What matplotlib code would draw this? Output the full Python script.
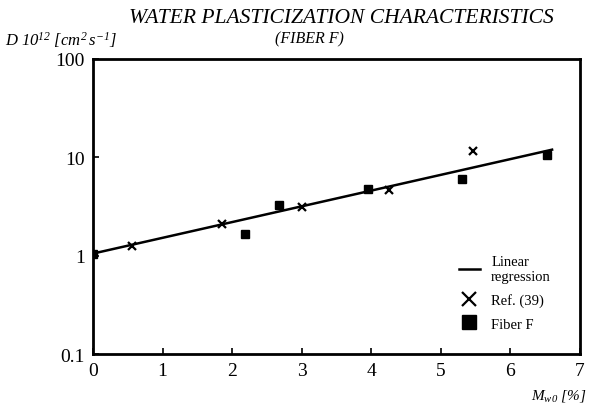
import numpy as np
import matplotlib
matplotlib.use("Agg")
import matplotlib.pyplot as plt

plt.rcParams['font.family'] = ['Liberation Serif', 'DejaVu Serif']
plt.rcParams['mathtext.fontset'] = 'custom'
plt.rcParams['mathtext.rm'] = 'Liberation Serif:italic'
plt.rcParams['mathtext.it'] = 'Liberation Serif:italic'
plt.rcParams['mathtext.bf'] = 'Liberation Serif:bold'

# Data
ref_x = [0.56, 1.86, 3.0, 4.25, 5.46]
ref_y = [1.26, 2.12, 3.15, 4.6, 11.6]
fib_x = [0.0, 2.18, 2.68, 3.96, 5.31, 6.52]
fib_y = [1.05, 1.66, 3.28, 4.72, 6.0, 10.6]
reg_x = [0.0, 6.6]
reg_a = 1.05      # intercept
reg_b = 0.16      # log10 slope per %

xticks = [0, 1, 2, 3, 4, 5, 6, 7]
yticks = [0.1, 1, 10, 100]
ytick_labels = ['0.1', '1', '10', '100']

fig = plt.figure(figsize=(5.96, 4.10), dpi=100)
ax = fig.add_axes([0.156, 0.134, 0.817, 0.720])

xs = np.linspace(reg_x[0], reg_x[1], 50)
ax.plot(xs, reg_a * 10 ** (reg_b * xs), color='black', lw=1.8, label='Linear\nregression')
ax.plot(ref_x, ref_y, linestyle='none', marker='x', color='black', ms=6, mew=1.6, label='Ref. (39)')
ax.plot(fib_x, fib_y, linestyle='none', marker='s', color='black', ms=6, label='Fiber F')

ax.set_yscale('log')
ax.set_xlim(0, 7)
ax.set_ylim(0.1, 100)
ax.set_xticks(xticks)
ax.set_xticklabels([str(t) for t in xticks])
ax.set_yticks(yticks)
ax.set_yticklabels(ytick_labels)
ax.minorticks_off()
ax.tick_params(direction='in', length=4, width=1.2, labelsize=14, pad=6)
for s in ax.spines.values():
    s.set_linewidth(2)

leg = ax.legend(loc='upper left', bbox_to_anchor=(0.725, 0.38), frameon=False,
                handlelength=1.4, handletextpad=0.8, labelspacing=0.7,
                markerscale=1.6, fontsize=10.5)

fig.text(0.573, 0.955, 'WATER PLASTICIZATION CHARACTERISTICS', ha='center', va='center',
         fontsize=15.5, style='italic')
fig.text(0.52, 0.905, '(FIBER F)', ha='center', va='center', fontsize=11.5, style='italic')
fig.text(0.008, 0.903, r'$D\ 10^{12}\ [cm^2\,s^{-1}]$', ha='left', va='center', fontsize=12)
fig.text(0.983, 0.035, r'$M_{w0}\ [\%]$', ha='right', va='center', fontsize=11)

fig.savefig('out.png', dpi=100)
